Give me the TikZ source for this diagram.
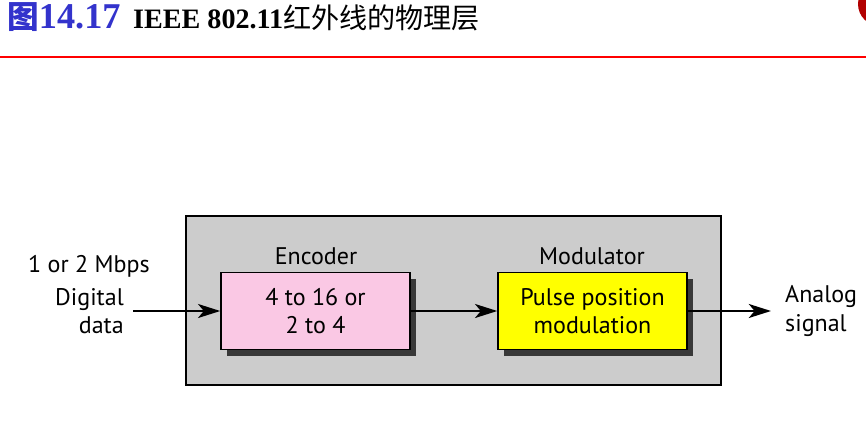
\documentclass[tikz,border=0pt]{standalone}
\usepackage{fontspec}
\setmainfont{Liberation Serif}
\newfontfamily\labelfont{PT Sans}
\newfontfamily\cjk{Noto Sans CJK SC}
\usetikzlibrary{arrows.meta,shadows}
\definecolor{titleblue}{RGB}{51,51,204}
\definecolor{rulered}{RGB}{255,0,0}
\definecolor{panelgray}{RGB}{204,204,204}
\definecolor{encpink}{RGB}{250,200,228}
\definecolor{modyellow}{RGB}{255,255,0}
\tikzset{
  label text/.style={font=\labelfont\fontsize{20.5}{24}\selectfont, inner sep=0pt},
  block/.style={draw, line width=1.3pt, minimum width=5.67cm, minimum height=2.31cm,
    align=center, font=\labelfont\fontsize{20.5}{24}\selectfont,
    drop shadow={shadow xshift=0.18cm, shadow yshift=-0.18cm, fill=black!78, opacity=1}},
  flow/.style={line width=1.5pt, -{Stealth[length=19pt,width=12pt,inset=5pt]}}
}
\begin{document}
\begin{tikzpicture}[x=0.03cm,y=-0.03cm]
	\useasboundingbox (0,0) rectangle (866,423);
	\fill[red!70!black] (880,4) circle (22);
	\fill[red!15] (880,4) circle (14);

	\node[anchor=base west, inner sep=0, text=titleblue] (fignum) at (7,29)
		{\cjk\bfseries\fontsize{27}{27}\selectfont 图\rmfamily\fontsize{31}{31}\selectfont 14.17};
	\node[anchor=base west, inner sep=0] (caption) at (133,29)
		{\bfseries\fontsize{24}{24}\selectfont IEEE 802.11\cjk\mdseries\fontsize{24}{24}\selectfont 红外线的物理层};
	\draw[rulered, line width=1.6pt] (0,57) -- (866,57);

	\draw[fill=panelgray, line width=1.1pt] (186,216) rectangle (721,385);

	\node[block, fill=encpink] (enc) at (315.5,311) {4 to 16 or\\2 to 4};
	\node[block, fill=modyellow] (mod) at (592.5,311) {Pulse position\\modulation};
	\node[label text, anchor=base] (enclabel) at (316,264) {Encoder};
	\node[label text, anchor=base] (modlabel) at (592,264) {Modulator};

	\coordinate (in) at (133,311);
	\coordinate (out) at (771,311);
	\node[label text, anchor=base] (rate) at (89,272) {1 or 2 Mbps};
	\node[label text, anchor=east, align=right] (digital) at (124,311) {Digital\\data};
	\node[label text, anchor=west, align=left] (analog) at (785,311) {Analog\\signal};

	\draw[flow] (in) -- (enc);
	\draw[flow] (enc) -- (mod);
	\draw[flow] (mod) -- (out);
\end{tikzpicture}
\end{document}
